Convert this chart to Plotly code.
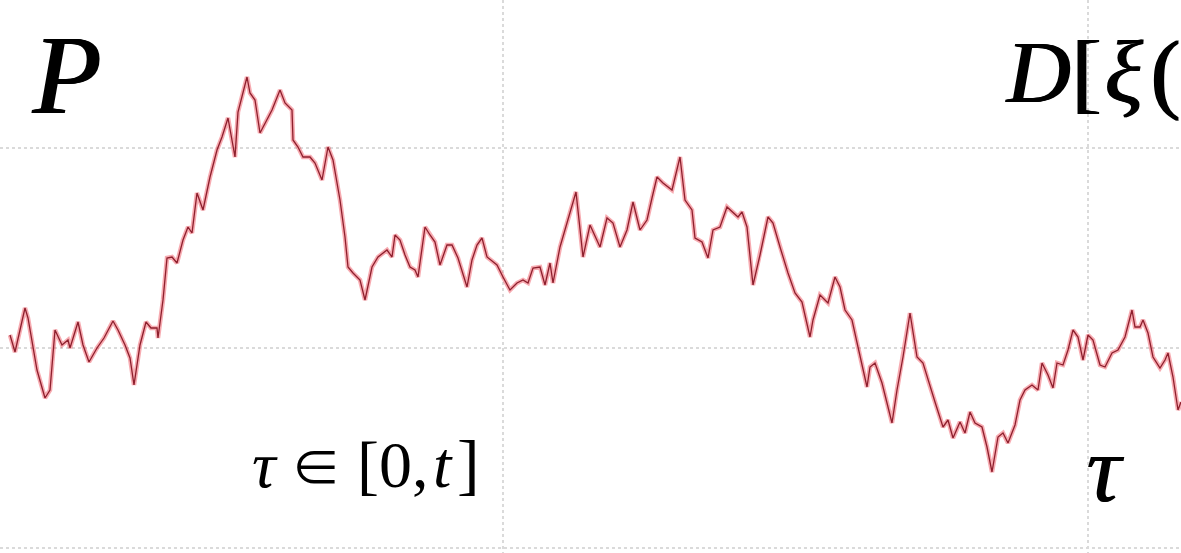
import plotly.graph_objects as go

# Sampled path xi(tau) of the noise realisation (tau along the horizontal, xi vertical)
tau = [10, 15, 25, 28, 37, 45, 50, 55, 62, 68, 70, 78, 83, 89, 97, 104, 113, 118, 125, 130,
       134, 140, 146, 151, 157, 158, 163, 167, 172, 177, 183, 188, 192, 197, 203, 210, 217, 222,
       228, 235, 238, 247, 250, 255, 260, 267, 272, 280, 285, 292, 293, 298, 303, 310, 315, 322,
       328, 333, 340, 345, 348, 353, 360, 365, 372, 378, 387, 392, 395, 400, 405, 410, 415, 418,
       425, 430, 435, 440, 447, 452, 458, 467, 472, 477, 482, 487, 497, 503, 510, 517, 523, 528,
       533, 540, 545, 550, 553, 560, 567, 572, 576, 583, 590, 600, 607, 613, 620, 627, 633, 640,
       647, 652, 657, 663, 672, 680, 685, 692, 695, 702, 708, 713, 720, 727, 733, 738, 742, 747,
       753, 760, 768, 773, 780, 788, 795, 802, 810, 813, 820, 828, 835, 840, 845, 852, 858, 863,
       867, 870, 875, 882, 892, 897, 903, 910, 917, 923, 928, 935, 943, 948, 953, 960, 965, 970,
       975, 982, 987, 992, 998, 1003, 1008, 1015, 1020, 1025, 1032, 1038, 1042, 1048, 1053, 1057,
       1063, 1068, 1073, 1078, 1083, 1088, 1093, 1100, 1105, 1112, 1118, 1125, 1132, 1135, 1140,
       1143, 1148, 1153, 1160, 1165, 1168, 1173, 1178, 1181]

xi = [218, 201, 245, 235, 183, 155, 163, 223, 208, 213, 205, 231, 208, 191, 205, 215, 232, 223, 208, 195,
      168, 208, 231, 225, 225, 215, 253, 295, 296, 290, 313, 326, 320, 360, 343, 376, 403, 416,
      435, 396, 441, 476, 460, 453, 420, 433, 443, 463, 450, 443, 413, 406, 396, 396, 390, 373,
      406, 393, 353, 316, 286, 280, 273, 253, 286, 296, 303, 296, 318, 313, 298, 286, 283, 276,
      326, 318, 311, 288, 308, 308, 295, 266, 293, 308, 315, 296, 288, 276, 263, 270, 273, 270,
      285, 286, 268, 290, 270, 306, 330, 348, 361, 296, 328, 306, 335, 330, 306, 323, 351, 323,
      333, 355, 376, 370, 363, 396, 353, 343, 315, 311, 295, 323, 326, 346, 340, 336, 341, 326,
      268, 298, 336, 330, 306, 280, 260, 251, 216, 233, 258, 250, 276, 266, 243, 233, 206, 183,
      166, 186, 190, 170, 130, 163, 196, 240, 196, 190, 173, 151, 126, 133, 115, 131, 120, 141,
      130, 126, 106, 81, 116, 120, 110, 128, 153, 163, 168, 163, 190, 178, 165, 190,
      188, 203, 223, 216, 193, 218, 213, 188, 186, 200, 203, 216, 243, 226, 226,
      233, 220, 196, 185, 193, 200, 176, 143, 151]

SERIF = "Liberation Serif, Times New Roman, serif"
SYMBOL = "Noto Sans CJK JP, DejaVu Serif, serif"
HEAVY = "1px 0px 0px black, -1px 0px 0px black"
SEMI = "1px 0px 0px black"

fig = go.Figure()

# soft red halo under the path
fig.add_trace(go.Scatter(
    x=tau, y=xi, mode="lines",
    line=dict(color="rgba(235,55,70,0.42)", width=4.5),
    hoverinfo="skip", showlegend=False,
))
# dark red core of the path
fig.add_trace(go.Scatter(
    x=tau, y=xi, mode="lines",
    line=dict(color="#8e1f2d", width=1.3),
    showlegend=False,
))

grid = dict(showgrid=True, gridcolor="#dadada", gridwidth=2, griddash="dot",
            showticklabels=False, zeroline=False, showline=False, ticks="")

fig.update_xaxes(range=[0, 1181], tick0=503, dtick=585, **grid)
fig.update_yaxes(range=[0, 553], tick0=5, dtick=200, **grid)

# formula pieces set glyph by glyph, math-style spacing
labels = [
    # P
    dict(text="<i>P</i>", x=66, y=478, size=112, family=SERIF, shadow=HEAVY),
    # D[xi(
    dict(text="<i>D</i>", x=1038, y=481, size=88, family=SERIF, shadow=HEAVY),
    dict(text="[", x=1086, y=481, size=88, family=SERIF, shadow=HEAVY),
    dict(text="<i>ξ</i>", x=1124, y=481, size=88, family=SERIF, shadow=HEAVY),
    dict(text="(", x=1165, y=481, size=88, family=SERIF, shadow=HEAVY),
    # tau in [0, t]
    dict(text="<i>τ</i>", x=265, y=89, size=66, family=SERIF, shadow="none"),
    dict(text="∈", x=316, y=89, size=50, family=SYMBOL, shadow="none"),
    dict(text="[0,", x=392, y=89, size=66, family=SERIF, shadow="none"),
    dict(text="<i>t</i>", x=443, y=89, size=66, family=SERIF, shadow="none"),
    dict(text="]", x=468, y=89, size=68, family=SERIF, shadow="none"),
    # tau
    dict(text="<i>τ</i>", x=1105, y=85, size=96, family=SERIF, shadow=SEMI),
]
for lb in labels:
    fig.add_annotation(
        text=lb["text"], x=lb["x"], y=lb["y"], xref="x", yref="y",
        xanchor="center", yanchor="middle", showarrow=False,
        font=dict(family=lb["family"], size=lb["size"], color="black",
                  shadow=lb["shadow"]),
    )

fig.update_layout(
    width=1181, height=553,
    margin=dict(l=0, r=0, t=0, b=0),
    paper_bgcolor="white", plot_bgcolor="white",
)

fig.write_html("out.html")
